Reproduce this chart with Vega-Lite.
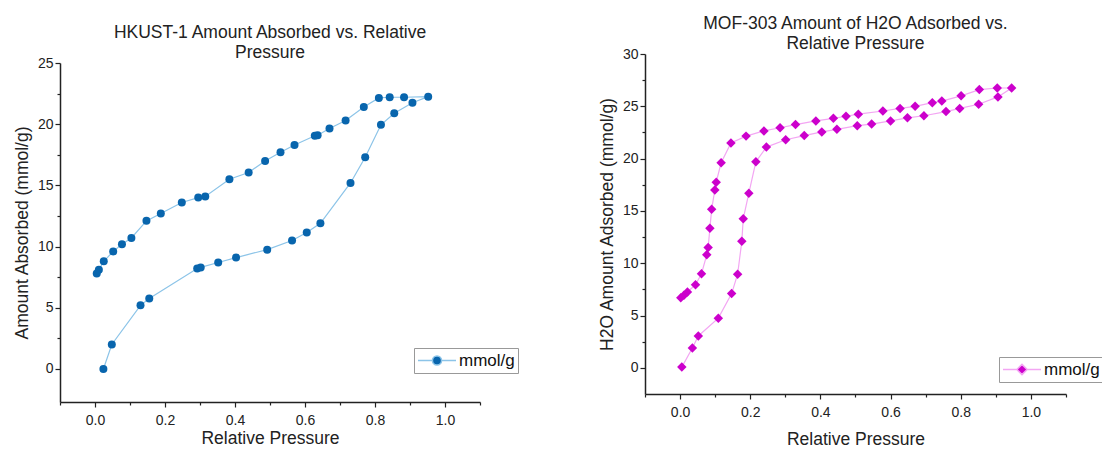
{
  "$schema": "https://vega.github.io/schema/vega-lite/v6.json",
  "background": "white",
  "padding": {"left": 13, "top": 14, "right": 0, "bottom": 0},
  "config": {
    "view": {"stroke": null},
    "font": "Liberation Sans",
    "title": {"font": "Liberation Sans", "fontSize": 17.5, "fontWeight": "normal", "color": "#222", "lineHeight": 20, "offset": -5, "anchor": "middle"},
    "axis": {"labelFont": "Liberation Sans", "labelFontSize": 14, "labelColor": "#222", "titleFont": "Liberation Sans", "titleFontSize": 17.5, "titleFontWeight": "normal", "titleColor": "#222", "domainColor": "#222", "domainWidth": 1.5, "tickColor": "#222", "tickWidth": 1.2, "grid": false, "labelOverlap": false, "labelFlush": false},
    "legend": {"labelFont": "Liberation Sans", "labelFontSize": 17, "labelColor": "#111", "strokeColor": "#999", "padding": 3, "labelOffset": 2, "clipHeight": 19, "symbolSize": 1444, "symbolStrokeWidth": 1.5, "title": null}
  },
  "resolve": {"scale": {"color": "independent"}, "legend": {"color": "independent"}},
  "spacing": 79,
  "hconcat": [
    {
      "spacing": -32,
      "vconcat": [
        {"width": 420, "height": 1, "data": {"values": []}, "mark": {"type": "point", "opacity": 0}},
        {
          "width": 420,
          "height": 339,
          "title": {"text": ["HKUST-1 Amount Absorbed vs. Relative", "Pressure"]},
          "data": {"values": [
            {"i": 1, "p": 0.024, "a": 0.0, "s": "mmol/g"},
            {"i": 2, "p": 0.048, "a": 2.0, "s": "mmol/g"},
            {"i": 3, "p": 0.130, "a": 5.2, "s": "mmol/g"},
            {"i": 4, "p": 0.155, "a": 5.75, "s": "mmol/g"},
            {"i": 5, "p": 0.292, "a": 8.2, "s": "mmol/g"},
            {"i": 6, "p": 0.302, "a": 8.3, "s": "mmol/g"},
            {"i": 7, "p": 0.352, "a": 8.7, "s": "mmol/g"},
            {"i": 8, "p": 0.403, "a": 9.1, "s": "mmol/g"},
            {"i": 9, "p": 0.492, "a": 9.75, "s": "mmol/g"},
            {"i": 10, "p": 0.563, "a": 10.5, "s": "mmol/g"},
            {"i": 11, "p": 0.605, "a": 11.15, "s": "mmol/g"},
            {"i": 12, "p": 0.644, "a": 11.9, "s": "mmol/g"},
            {"i": 13, "p": 0.730, "a": 15.2, "s": "mmol/g"},
            {"i": 14, "p": 0.772, "a": 17.3, "s": "mmol/g"},
            {"i": 15, "p": 0.817, "a": 19.95, "s": "mmol/g"},
            {"i": 16, "p": 0.855, "a": 20.9, "s": "mmol/g"},
            {"i": 17, "p": 0.907, "a": 21.75, "s": "mmol/g"},
            {"i": 18, "p": 0.952, "a": 22.25, "s": "mmol/g"},
            {"i": 19, "p": 0.883, "a": 22.2, "s": "mmol/g"},
            {"i": 20, "p": 0.842, "a": 22.2, "s": "mmol/g"},
            {"i": 21, "p": 0.811, "a": 22.15, "s": "mmol/g"},
            {"i": 22, "p": 0.768, "a": 21.4, "s": "mmol/g"},
            {"i": 23, "p": 0.716, "a": 20.3, "s": "mmol/g"},
            {"i": 24, "p": 0.670, "a": 19.65, "s": "mmol/g"},
            {"i": 25, "p": 0.636, "a": 19.1, "s": "mmol/g"},
            {"i": 26, "p": 0.628, "a": 19.05, "s": "mmol/g"},
            {"i": 27, "p": 0.570, "a": 18.3, "s": "mmol/g"},
            {"i": 28, "p": 0.530, "a": 17.7, "s": "mmol/g"},
            {"i": 29, "p": 0.486, "a": 17.0, "s": "mmol/g"},
            {"i": 30, "p": 0.439, "a": 16.05, "s": "mmol/g"},
            {"i": 31, "p": 0.384, "a": 15.5, "s": "mmol/g"},
            {"i": 32, "p": 0.315, "a": 14.1, "s": "mmol/g"},
            {"i": 33, "p": 0.295, "a": 14.0, "s": "mmol/g"},
            {"i": 34, "p": 0.248, "a": 13.6, "s": "mmol/g"},
            {"i": 35, "p": 0.188, "a": 12.7, "s": "mmol/g"},
            {"i": 36, "p": 0.147, "a": 12.1, "s": "mmol/g"},
            {"i": 37, "p": 0.104, "a": 10.7, "s": "mmol/g"},
            {"i": 38, "p": 0.077, "a": 10.2, "s": "mmol/g"},
            {"i": 39, "p": 0.052, "a": 9.6, "s": "mmol/g"},
            {"i": 40, "p": 0.025, "a": 8.8, "s": "mmol/g"},
            {"i": 41, "p": 0.011, "a": 8.1, "s": "mmol/g"},
            {"i": 42, "p": 0.005, "a": 7.8, "s": "mmol/g"}
          ]},
          "encoding": {
            "x": {"field": "p", "type": "quantitative", "title": "Relative Pressure",
              "scale": {"domain": [-0.1, 1.1], "nice": false, "zero": false},
              "axis": {"values": [-0.1, 0, 0.1, 0.2, 0.3, 0.4, 0.5, 0.6, 0.7, 0.8, 0.9, 1.0, 1.1],
                "labelExpr": "abs(round(datum.value*10)) % 2 === 0 ? format(datum.value, '.1f') : ''",
                "tickSize": {"condition": {"test": "abs(round(datum.value*10)) % 2 === 0", "value": 5}, "value": 3},
                "labelPadding": 6, "titlePadding": 2}},
            "y": {"field": "a", "type": "quantitative", "title": "Amount Absorbed (mmol/g)",
              "scale": {"domain": [-2.7, 25], "nice": false, "zero": false},
              "axis": {"values": [0, 2.5, 5, 7.5, 10, 12.5, 15, 17.5, 20, 22.5, 25],
                "labelExpr": "datum.value % 5 === 0 ? datum.label : ''",
                "tickSize": {"condition": {"test": "datum.value % 5 === 0", "value": 5}, "value": 3},
                "labelPadding": 2, "titlePadding": 6}}
          },
          "layer": [
            {"mark": {"type": "line", "color": "#8cc4e8", "strokeWidth": 1.2},
             "encoding": {"order": {"field": "i", "type": "quantitative"}}},
            {"mark": {"type": "point", "filled": true, "shape": "circle", "size": 64, "opacity": 1},
             "encoding": {"color": {"field": "s", "type": "nominal", "scale": {"range": ["#0865ad"]},
               "legend": {"orient": "none", "legendX": 354, "legendY": 294, "symbolStrokeColor": "#8cc4e8",
                 "symbolType": "M-1,0H-0.24M0.24,0H1M-0.24,0A0.24,0.24,0,1,1,0.24,0A0.24,0.24,0,1,1,-0.24,0Z"}}}}
          ]
        }
      ]
    },
    {
      "width": 421,
      "height": 340,
      "title": {"text": ["MOF-303 Amount of H2O Adsorbed vs.", "Relative Pressure"]},
      "data": {"values": [
        {"i": 1, "p": 0.005, "a": 0.07, "s": "mmol/g"},
        {"i": 2, "p": 0.035, "a": 1.9, "s": "mmol/g"},
        {"i": 3, "p": 0.052, "a": 3.05, "s": "mmol/g"},
        {"i": 4, "p": 0.109, "a": 4.75, "s": "mmol/g"},
        {"i": 5, "p": 0.147, "a": 7.1, "s": "mmol/g"},
        {"i": 6, "p": 0.164, "a": 8.95, "s": "mmol/g"},
        {"i": 7, "p": 0.176, "a": 12.1, "s": "mmol/g"},
        {"i": 8, "p": 0.180, "a": 14.25, "s": "mmol/g"},
        {"i": 9, "p": 0.196, "a": 16.7, "s": "mmol/g"},
        {"i": 10, "p": 0.216, "a": 19.7, "s": "mmol/g"},
        {"i": 11, "p": 0.246, "a": 21.1, "s": "mmol/g"},
        {"i": 12, "p": 0.301, "a": 21.8, "s": "mmol/g"},
        {"i": 13, "p": 0.354, "a": 22.2, "s": "mmol/g"},
        {"i": 14, "p": 0.404, "a": 22.55, "s": "mmol/g"},
        {"i": 15, "p": 0.447, "a": 22.8, "s": "mmol/g"},
        {"i": 16, "p": 0.505, "a": 23.15, "s": "mmol/g"},
        {"i": 17, "p": 0.546, "a": 23.3, "s": "mmol/g"},
        {"i": 18, "p": 0.600, "a": 23.6, "s": "mmol/g"},
        {"i": 19, "p": 0.648, "a": 23.9, "s": "mmol/g"},
        {"i": 20, "p": 0.695, "a": 24.1, "s": "mmol/g"},
        {"i": 21, "p": 0.758, "a": 24.5, "s": "mmol/g"},
        {"i": 22, "p": 0.797, "a": 24.8, "s": "mmol/g"},
        {"i": 23, "p": 0.851, "a": 25.2, "s": "mmol/g"},
        {"i": 24, "p": 0.906, "a": 25.9, "s": "mmol/g"},
        {"i": 25, "p": 0.945, "a": 26.75, "s": "mmol/g"},
        {"i": 26, "p": 0.904, "a": 26.75, "s": "mmol/g"},
        {"i": 27, "p": 0.853, "a": 26.6, "s": "mmol/g"},
        {"i": 28, "p": 0.801, "a": 26.0, "s": "mmol/g"},
        {"i": 29, "p": 0.746, "a": 25.5, "s": "mmol/g"},
        {"i": 30, "p": 0.719, "a": 25.35, "s": "mmol/g"},
        {"i": 31, "p": 0.670, "a": 25.0, "s": "mmol/g"},
        {"i": 32, "p": 0.627, "a": 24.8, "s": "mmol/g"},
        {"i": 33, "p": 0.578, "a": 24.55, "s": "mmol/g"},
        {"i": 34, "p": 0.508, "a": 24.25, "s": "mmol/g"},
        {"i": 35, "p": 0.473, "a": 24.05, "s": "mmol/g"},
        {"i": 36, "p": 0.437, "a": 23.85, "s": "mmol/g"},
        {"i": 37, "p": 0.387, "a": 23.6, "s": "mmol/g"},
        {"i": 38, "p": 0.329, "a": 23.25, "s": "mmol/g"},
        {"i": 39, "p": 0.285, "a": 22.95, "s": "mmol/g"},
        {"i": 40, "p": 0.239, "a": 22.65, "s": "mmol/g"},
        {"i": 41, "p": 0.188, "a": 22.15, "s": "mmol/g"},
        {"i": 42, "p": 0.145, "a": 21.5, "s": "mmol/g"},
        {"i": 43, "p": 0.117, "a": 19.6, "s": "mmol/g"},
        {"i": 44, "p": 0.103, "a": 17.75, "s": "mmol/g"},
        {"i": 45, "p": 0.099, "a": 17.0, "s": "mmol/g"},
        {"i": 46, "p": 0.090, "a": 15.15, "s": "mmol/g"},
        {"i": 47, "p": 0.085, "a": 13.35, "s": "mmol/g"},
        {"i": 48, "p": 0.080, "a": 11.5, "s": "mmol/g"},
        {"i": 49, "p": 0.076, "a": 10.8, "s": "mmol/g"},
        {"i": 50, "p": 0.061, "a": 9.0, "s": "mmol/g"},
        {"i": 51, "p": 0.044, "a": 7.95, "s": "mmol/g"},
        {"i": 52, "p": 0.021, "a": 7.25, "s": "mmol/g"},
        {"i": 53, "p": 0.011, "a": 6.95, "s": "mmol/g"},
        {"i": 54, "p": 0.002, "a": 6.7, "s": "mmol/g"}
      ]},
      "encoding": {
        "x": {"field": "p", "type": "quantitative", "title": "Relative Pressure",
          "scale": {"domain": [-0.1, 1.1], "nice": false, "zero": false},
          "axis": {"values": [-0.1, 0, 0.1, 0.2, 0.3, 0.4, 0.5, 0.6, 0.7, 0.8, 0.9, 1.0, 1.1],
            "labelExpr": "abs(round(datum.value*10)) % 2 === 0 ? format(datum.value, '.1f') : ''",
            "tickSize": {"condition": {"test": "abs(round(datum.value*10)) % 2 === 0", "value": 5}, "value": 3},
            "labelPadding": 6, "titlePadding": 11}},
        "y": {"field": "a", "type": "quantitative", "title": "H2O Amount Adsorbed (mmol/g)",
          "scale": {"domain": [-2.5, 30], "nice": false, "zero": false},
          "axis": {"values": [0, 2.5, 5, 7.5, 10, 12.5, 15, 17.5, 20, 22.5, 25, 27.5, 30],
            "labelExpr": "datum.value % 5 === 0 ? datum.label : ''",
            "tickSize": {"condition": {"test": "datum.value % 5 === 0", "value": 5}, "value": 3},
            "labelPadding": 2, "titlePadding": 6}}
      },
      "layer": [
        {"mark": {"type": "line", "color": "#f3a6f3", "strokeWidth": 1.2},
         "encoding": {"order": {"field": "i", "type": "quantitative"}}},
        {"mark": {"type": "point", "filled": true, "shape": "diamond", "size": 90, "opacity": 1},
         "encoding": {"color": {"field": "s", "type": "nominal", "scale": {"range": ["#cc00cc"]},
           "legend": {"orient": "none", "legendX": 354, "legendY": 303, "symbolStrokeColor": "#f3a6f3",
             "symbolType": "M-1,0H-0.27M0.27,0H1M-0.27,0L0,-0.27L0.27,0L0,0.27Z"}}}}
      ]
    }
  ]
}
